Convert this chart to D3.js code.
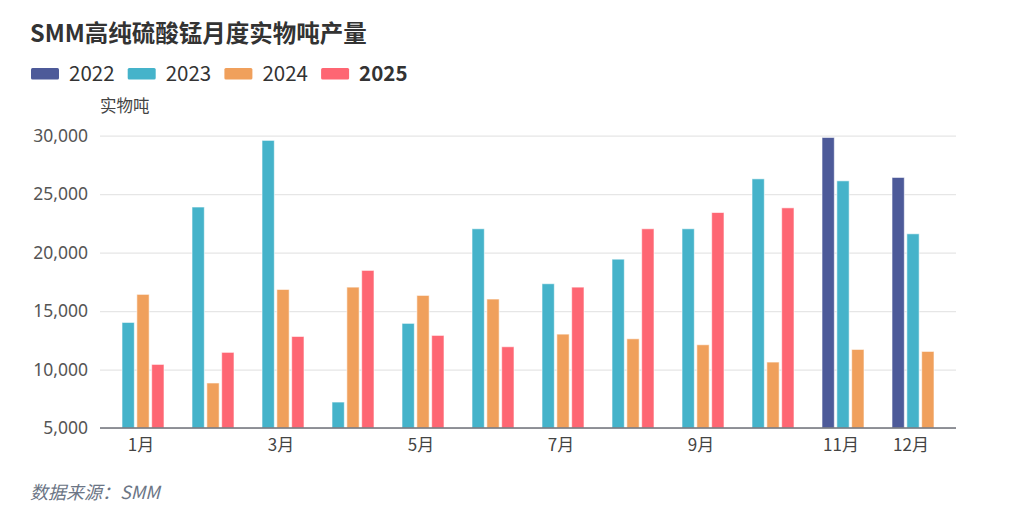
<!DOCTYPE html>
<html>
<head>
<meta charset="utf-8">
<script src="https://cdn.jsdelivr.net/npm/d3@7"></script>
<style>
  body { margin: 0; background: #fff; }
  svg { font-family: "Noto Sans CJK SC", "Noto Sans", sans-serif; }
</style>
</head>
<body>
<svg id="chart"></svg>
<script>
const width = 1024;
const height = 520;

// month categories and which ones get a tick label
const months = ["1月", "2月", "3月", "4月", "5月", "6月", "7月", "8月", "9月", "10月", "11月", "12月"];
const shownMonths = ["1月", "3月", "5月", "7月", "9月", "11月", "12月"];

// series, one per year (null = no data that month)
const years = ["2022", "2023", "2024", "2025"];
const colors = ["#4d5a99", "#45b3ca", "#f0a05c", "#fe6673"];
const values2022 = [null, null, null, null, null, null, null, null, null, null, 29850, 26430];
const values2023 = [14030, 23900, 29600, 7220, 13950, 22040, 17340, 19440, 22040, 26310, 26140, 21610];
const values2024 = [16430, 8850, 16850, 17050, 16340, 16030, 13030, 12630, 12120, 10640, 11720, 11550];
const values2025 = [10440, 11470, 12830, 18480, 12920, 11950, 17050, 22040, 23430, 23830, null, null];
const series = [values2022, values2023, values2024, values2025];

const yTicks = [5000, 10000, 15000, 20000, 25000, 30000];

const svg = d3.select("#chart")
    .attr("width", width)
    .attr("height", height);

const plotLeft = 100, plotRight = 956, plotTop = 135.7, plotBottom = 428;

const x = d3.scaleBand()
    .domain(months)
    .range([108, 948]);

const y = d3.scaleLinear()
    .domain([5000, 30000])
    .range([plotBottom, plotTop]);

// title
svg.append("text")
    .attr("x", 30)
    .attr("y", 42)
    .attr("font-size", 23.5)
    .attr("font-weight", "bold")
    .attr("fill", "#333")
    .text("SMM高纯硫酸锰月度实物吨产量");

// legend
const legend = svg.append("g").attr("transform", "translate(31,68)");
years.forEach((yr, i) => {
    const g = legend.append("g").attr("transform", `translate(${i * 96.7},0)`);
    g.append("rect")
        .attr("width", 28)
        .attr("height", 11.5)
        .attr("rx", 1.5)
        .attr("fill", colors[i]);
    g.append("text")
        .attr("x", 38)
        .attr("y", 12.5)
        .attr("font-size", 20.5)
        .attr("font-weight", yr === "2025" ? "bold" : "normal")
        .attr("fill", "#333")
        .text(yr);
});

// unit label
svg.append("text")
    .attr("x", 100)
    .attr("y", 112)
    .attr("font-size", 16.5)
    .attr("fill", "#444")
    .text("实物吨");

// y grid + labels
const yAxis = d3.axisLeft(y)
    .tickValues(yTicks)
    .tickSize(-(plotRight - plotLeft))
    .tickPadding(12)
    .tickFormat(d3.format(","));

svg.append("g")
    .attr("transform", `translate(${plotLeft},0)`)
    .call(yAxis)
    .call(g => g.select(".domain").remove())
    .call(g => g.selectAll(".tick line").attr("stroke", "#e6e6e6").attr("stroke-width", 1.2))
    .call(g => g.selectAll(".tick text")
        .attr("font-size", 17.5)
        .attr("fill", "#555")
        .attr("font-family", "'Noto Sans', sans-serif"));

// bars: each month only spaces out the series that have data
const barGroups = svg.append("g");
months.forEach((m, mi) => {
    const present = years.map((yr, si) => ({ yr, si, v: series[si][mi] }))
        .filter(d => d.v != null);
    const inner = d3.scaleBand()
        .domain(present.map(d => d.yr))
        .range([0, x.bandwidth() * 0.6])
        .paddingInner(0.17);
    const offset = x(m) + x.bandwidth() * 0.2;
    barGroups.selectAll(null)
        .data(present)
        .join("rect")
        .attr("x", d => offset + inner(d.yr))
        .attr("y", d => y(d.v))
        .attr("width", inner.bandwidth())
        .attr("height", d => plotBottom - y(d.v))
        .attr("fill", d => colors[d.si])
        .attr("stroke", "rgba(255,255,255,0.6)")
        .attr("stroke-width", 1);
});

// x axis
svg.append("line")
    .attr("x1", plotLeft)
    .attr("x2", plotRight)
    .attr("y1", plotBottom)
    .attr("y2", plotBottom)
    .attr("stroke", "#6e7079")
    .attr("stroke-width", 1.5);

svg.append("g")
    .attr("transform", `translate(-2,${plotBottom})`)
    .call(d3.axisBottom(x).tickValues(shownMonths).tickSize(0).tickPadding(11))
    .call(g => g.select(".domain").remove())
    .call(g => g.selectAll(".tick text")
        .attr("font-size", 17)
        .attr("fill", "#444")
        .attr("font-family", "'Noto Sans CJK SC', sans-serif"));

// source note
svg.append("text")
    .attr("x", 30)
    .attr("y", 499)
    .attr("font-size", 18)
    .attr("font-style", "italic")
    .attr("fill", "#6b7585")
    .text("数据来源：SMM");
</script>
</body>
</html>
